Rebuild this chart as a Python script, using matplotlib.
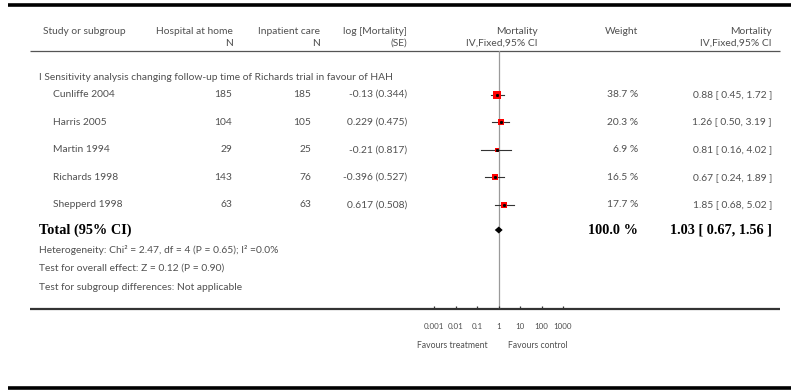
import numpy as np
import matplotlib
matplotlib.use("Agg")
import matplotlib.pyplot as plt

plt.rcParams['font.family'] = ['Lato', 'DejaVu Sans']

# ---- data -------------------------------------------------------------
studies = ["Cunliffe 2004", "Harris 2005", "Martin 1994", "Richards 1998", "Shepperd 1998"]
n_home = [185, 104, 29, 143, 63]
n_inpatient = [185, 105, 25, 76, 63]
log_mort = ["-0.13", "0.229", "-0.21", "-0.396", "0.617"]
log_se = ["0.344", "0.475", "0.817", "0.527", "0.508"]
weights = [38.7, 20.3, 6.9, 16.5, 17.7]
estimates = [0.88, 1.26, 0.81, 0.67, 1.85]
ci_low = [0.45, 0.50, 0.16, 0.24, 0.68]
ci_high = [1.72, 3.19, 4.02, 1.89, 5.02]

total_est, total_low, total_high = 1.03, 0.67, 1.56
total_weight = 100.0

subgroup_title = "I Sensitivity analysis changing follow-up time of Richards trial in favour of HAH"
heterogeneity = "Heterogeneity: Chi² = 2.47, df = 4 (P = 0.65); I² =0.0%"
overall_effect = "Test for overall effect: Z = 0.12 (P = 0.90)"
subgroup_diff = "Test for subgroup differences: Not applicable"

tick_values = [0.001, 0.01, 0.1, 1, 10, 100, 1000]
tick_labels = ["0.001", "0.01", "0.1", "1", "10", "100", "1000"]
favours_left = "Favours treatment"
favours_right = "Favours control"

# ---- layout -------------------------------------------------------------
W, H = 791, 390
fig = plt.figure(figsize=(W / 100, H / 100), dpi=100)
ax = fig.add_axes([0, 0, 1, 1])
ax.set_xlim(0, W)
ax.set_ylim(H, 0)
ax.axis("off")

txt = "#505050"
fs = 7.4

# rules
ax.plot([8, W], [5, 5], color="black", lw=2.6, solid_capstyle="butt")
ax.plot([30, 780], [50.5, 50.5], color="#555555", lw=0.9, solid_capstyle="butt")
ax.plot([30, 780], [309, 309], color="#333333", lw=1.6, solid_capstyle="butt")
ax.plot([8, W], [388, 388], color="black", lw=2.6, solid_capstyle="butt")

# column headers
hy1, hy2 = 31, 43
ax.text(43, hy1, "Study or subgroup", color=txt, fontsize=fs, ha="left", va="center")
ax.text(233, hy1, "Hospital at home", color=txt, fontsize=fs, ha="right", va="center")
ax.text(233, hy2, "N", color=txt, fontsize=fs, ha="right", va="center")
ax.text(320, hy1, "Inpatient care", color=txt, fontsize=fs, ha="right", va="center")
ax.text(320, hy2, "N", color=txt, fontsize=fs, ha="right", va="center")
ax.text(407, hy1, "log [Mortality]", color=txt, fontsize=fs, ha="right", va="center")
ax.text(407, hy2, "(SE)", color=txt, fontsize=fs, ha="right", va="center")
ax.text(538, hy1, "Mortality", color=txt, fontsize=fs, ha="right", va="center")
ax.text(538, hy2, "IV,Fixed,95% CI", color=txt, fontsize=fs, ha="right", va="center")
ax.text(638, hy1, "Weight", color=txt, fontsize=fs, ha="right", va="center")
ax.text(772, hy1, "Mortality", color=txt, fontsize=fs, ha="right", va="center")
ax.text(772, hy2, "IV,Fixed,95% CI", color=txt, fontsize=fs, ha="right", va="center")

ax.text(39, 78, subgroup_title, color=txt, fontsize=fs, ha="left", va="center")

row0, step = 94.5, 27.6
rows_y = [row0 + step * i for i in range(len(studies))]
for y, name, nh, ni, lm, se, w, e, lo, hi in zip(rows_y, studies, n_home, n_inpatient,
                                                  log_mort, log_se, weights,
                                                  estimates, ci_low, ci_high):
    ax.text(53, y, name, color=txt, fontsize=fs, ha="left", va="center")
    ax.text(232, y, str(nh), color=txt, fontsize=fs, ha="right", va="center")
    ax.text(311, y, str(ni), color=txt, fontsize=fs, ha="right", va="center")
    ax.text(407, y, f"{lm} ({se})", color=txt, fontsize=fs, ha="right", va="center")
    ax.text(638, y, f"{w} %", color=txt, fontsize=fs, ha="right", va="center")
    ax.text(772, y, f"{e:.2f} [ {lo:.2f}, {hi:.2f} ]", color=txt, fontsize=fs,
            ha="right", va="center")

total_y = 230
bold = dict(family=["Liberation Serif", "DejaVu Serif"], fontweight="bold",
            fontsize=10.3, color="black", va="center")
ax.text(39, total_y, "Total (95% CI)", ha="left", **bold)
ax.text(638, total_y, f"{total_weight:.1f} %", ha="right", **bold)
ax.text(772, total_y, f"{total_est:.2f} [ {total_low:.2f}, {total_high:.2f} ]",
        ha="right", **bold)

ax.text(39, 250, heterogeneity, color=txt, fontsize=fs, ha="left", va="center")
ax.text(39, 268.5, overall_effect, color=txt, fontsize=fs, ha="left", va="center")
ax.text(39, 287, subgroup_diff, color=txt, fontsize=fs, ha="left", va="center")

# ---- forest panel --------------------------------------------------------
x0, x1 = 434.0, 563.0
ytop, ybot = 50.5, 309.0
fx = fig.add_axes([x0 / W, (H - ybot) / H, (x1 - x0) / W, (ybot - ytop) / H])
fx.set_xscale("log")
fx.set_xlim(tick_values[0], tick_values[-1])
fx.set_ylim(ybot, ytop)
fx.patch.set_visible(False)
for s in fx.spines.values():
    s.set_visible(False)
fx.set_yticks([])
fx.set_xticks(tick_values)
fx.set_xticklabels(tick_labels)
fx.minorticks_off()
fx.tick_params(axis="x", direction="in", length=2.5, width=0.9, color="#333333",
               pad=10, labelsize=5.8, labelcolor=txt)

fx.axvline(1, color="#9a9a9a", lw=0.9, zorder=1)

max_side = 8.5  # px side of the largest square
for y, w, e, lo, hi in zip(rows_y, weights, estimates, ci_low, ci_high):
    fx.plot([lo, hi], [y, y], color="#333333", lw=0.8, zorder=2)
    side = max_side * np.sqrt(w / max(weights))
    fx.plot([e], [y], marker="s", ms=side * 0.72, mfc="#ff0000", mec="#ff0000",
            mew=0, zorder=3, linestyle="none")
    fx.plot([e], [y], marker="s", ms=1.1, color="black", zorder=4, linestyle="none")

# pooled diamond
dh = 3.5
fx.fill([total_low, total_est, total_high, total_est],
        [total_y, total_y - dh, total_y, total_y + dh],
        color="black", zorder=4, lw=0)

ax.text(452.5, 345, favours_left, color=txt, fontsize=6.2, ha="center", va="center")
ax.text(538, 345, favours_right, color=txt, fontsize=6.2, ha="center", va="center")

fig.savefig("out.png", dpi=100)
